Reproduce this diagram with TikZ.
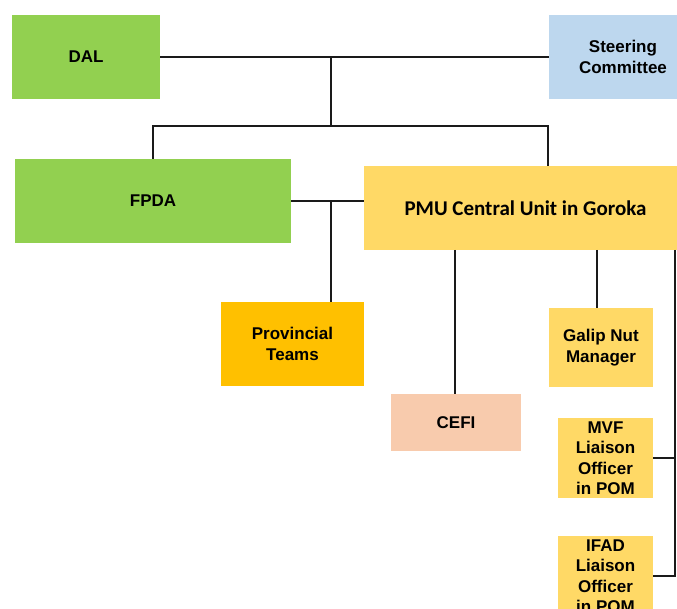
\documentclass[tikz,border=0pt]{standalone}
\usepackage{fontspec}
\setmainfont{Liberation Sans}
\newfontfamily\calibfont{Carlito}
\definecolor{dalgreen}{HTML}{92D050}
\definecolor{steerblue}{HTML}{BDD7EE}
\definecolor{pmuyellow}{HTML}{FFD966}
\definecolor{provorange}{HTML}{FFC000}
\definecolor{cefipeach}{HTML}{F8CBAD}
\definecolor{linegray}{HTML}{1A1A1A}
\begin{document}
\begin{tikzpicture}[x=1pt,y=-1pt,
  box/.style={rectangle, draw=none, inner sep=0pt, align=center,
    font=\bfseries\fontsize{17}{20.5}\selectfont},
  conn/.style={line width=1.5pt, draw=linegray}]
\useasboundingbox (0,0) rectangle (677,609);
\clip (0,0) rectangle (677,609);
% boxes
\node[box, fill=dalgreen, minimum width=148pt, minimum height=84pt] (dal) at (86,57) {DAL};
\node[box, fill=steerblue, minimum width=148pt, minimum height=84pt] (steer) at (623,57) {Steering\\Committee};
\node[box, fill=dalgreen, minimum width=276pt, minimum height=84pt] (fpda) at (153,201) {FPDA};
\node[box, fill=pmuyellow, minimum width=323pt, minimum height=84pt,
  font=\calibfont\bfseries\fontsize{21}{24}\selectfont] (pmu) at (525.5,208) {PMU Central Unit in Goroka};
\node[box, fill=provorange, minimum width=143pt, minimum height=84pt] (prov) at (292.5,344) {Provincial\\Teams};
\node[box, fill=cefipeach, minimum width=130pt, minimum height=57pt] (cefi) at (456,422.5) {CEFI};
\node[box, fill=pmuyellow, minimum width=104pt, minimum height=79pt] (galip) at (601,347.5) {\rule{0pt}{4pt}Galip Nut\\Manager};
\node[box, fill=pmuyellow, minimum width=95pt, minimum height=80pt] (mvf) at (605.5,458) {MVF\\Liaison\\Officer\\in POM};
\node[box, fill=pmuyellow, minimum width=95pt, minimum height=80pt] (ifad) at (605.5,576) {IFAD\\Liaison\\Officer\\in POM};
% junctions
\coordinate (j1) at (331,57);
\coordinate (j2) at (331,126);
\coordinate (j3) at (548,126);
\coordinate (j4) at (331,201);
\coordinate (jc) at (455,250);
\coordinate (jg) at (597,250);
\coordinate (jr) at (675,250);
% connectors
\draw[conn] (dal.east) -- (steer.west);
\draw[conn] (j1) -- (j2);
\draw[conn] (fpda.north) |- (j3) -- (j3 |- pmu.north);
\draw[conn] (fpda.east) -- (fpda.east -| pmu.west);
\draw[conn] (j4) -- (j4 |- prov.north);
\draw[conn] (jc) -- (jc |- cefi.north);
\draw[conn] (jg) -- (jg |- galip.north);
\draw[conn] (jr) |- (ifad.east);
\draw[conn] (mvf.east) -- (mvf.east -| jr);
\end{tikzpicture}
\end{document}
